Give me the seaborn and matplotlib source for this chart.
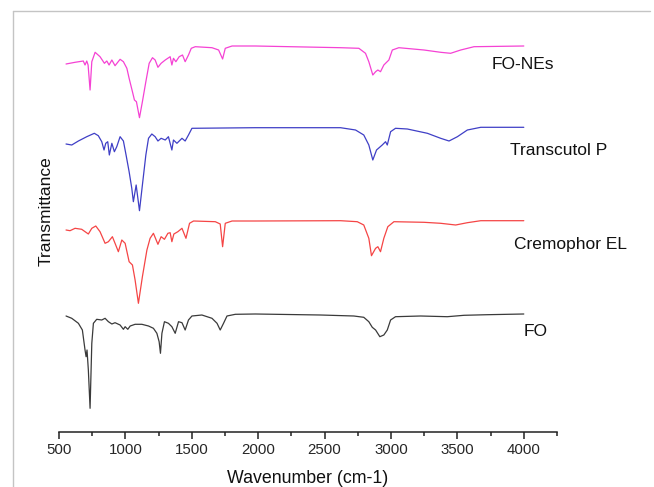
import pandas as pd
import matplotlib.pyplot as plt
import seaborn as sns
from matplotlib.lines import Line2D
from matplotlib.ticker import MultipleLocator

# FTIR spectra (wavenumber in cm-1, transmittance in a.u., traces stacked)
names = ["FO-NEs", "Transcutol P", "Cremophor EL", "FO"]

fo_nes_wn = [553, 621, 683, 696, 709, 719, 734, 747, 772, 809, 842, 860, 877, 898, 922, 960,
             985, 1011, 1028, 1053, 1068, 1083, 1106, 1128, 1154, 1179, 1204, 1224, 1245, 1269,
             1300, 1337, 1350, 1362, 1380, 1405, 1430, 1450, 1475, 1496, 1526, 1652, 1702, 1732,
             1752, 1803, 1978, 2620, 2758, 2808, 2833, 2863, 2884, 2901, 2921, 2946, 2984, 3010,
             3059, 3248, 3374, 3449, 3525, 3625, 4000]
fo_nes_t = [368, 369.7, 371, 367, 371, 367, 342, 370.3, 379.7, 375.3, 368.7, 371, 367, 372, 366.3,
            372.7, 370.3, 363.7, 353.7, 340.3, 332, 330.3, 314.3, 330.3, 350.3, 368.7, 374.3, 372,
            364.7, 368.7, 372, 375.3, 367, 373.7, 370.3, 375.3, 377, 370.3, 377, 383.7, 385.3,
            384.3, 382, 373, 383.7, 386, 386, 384.3, 383.7, 378.7, 370.3, 357, 360.3, 362, 360.3,
            367, 372, 382, 384.3, 382, 379.7, 378.7, 382, 385.3, 386]

transcutol_wn = [553, 596, 646, 709, 766, 796, 822, 839, 852, 867, 879, 898, 917, 935, 960, 985,
                 1005, 1028, 1048, 1060, 1081, 1106, 1128, 1154, 1174, 1199, 1224, 1245, 1269, 1300,
                 1324, 1350, 1362, 1388, 1426, 1450, 1475, 1501, 1978, 2620, 2733, 2795, 2833, 2863,
                 2891, 2934, 2959, 2972, 2997, 3034, 3123, 3274, 3374, 3437, 3500, 3575, 3676, 4000]
transcutol_t = [288, 287, 291, 295.3, 298.7, 296.3, 290.3, 282, 288.7, 290.3, 277, 288.7, 280.3,
                285.3, 295.3, 291, 277, 260.3, 243.7, 230.3, 247, 221.3, 247, 277, 293.7, 298,
                295.3, 291, 293.7, 292, 295.3, 282, 292, 288.7, 293.7, 291, 297, 303.7, 304.3,
                304.3, 302, 297, 287, 272, 282, 287, 290.3, 287, 300.3, 303.7, 303, 298.7, 293.7,
                291, 295.3, 302, 304.7, 304.7]

cremophor_wn = [553, 583, 621, 671, 721, 747, 777, 809, 847, 872, 902, 922, 947, 973, 998, 1028,
                1053, 1073, 1098, 1128, 1162, 1186, 1211, 1245, 1269, 1294, 1320, 1337, 1350, 1365,
                1395, 1426, 1456, 1483, 1513, 1677, 1714, 1732, 1752, 1803, 1978, 2620, 2746, 2795,
                2833, 2853, 2884, 2901, 2921, 2946, 2976, 3022, 3248, 3374, 3487, 3575, 3676, 4000]
cremophor_t = [202, 201.3, 203.7, 202.7, 198, 203.7, 206, 200.3, 188.7, 190.3, 195.3, 188.7, 180.3,
               192, 188.7, 170.3, 167, 152, 128.7, 155.3, 182, 193.7, 198.7, 187.7, 195.3, 192.7,
               198.7, 199.3, 190.3, 198, 200.3, 203.7, 193.7, 208.7, 211, 210.3, 208, 185.3, 208.7,
               211, 211, 211.3, 210.3, 207, 193.7, 176.3, 183.7, 185.3, 180.3, 193.7, 205.3, 210.3,
               209.7, 208.7, 207, 209.3, 211.3, 211.3]

fo_wn = [553, 596, 646, 676, 696, 704, 711, 721, 734, 747, 759, 784, 822, 847, 872, 898, 922, 960,
         985, 998, 1018, 1036, 1073, 1124, 1174, 1211, 1237, 1254, 1264, 1275, 1294, 1324, 1350,
         1375, 1400, 1426, 1450, 1475, 1501, 1576, 1652, 1690, 1714, 1739, 1765, 1828, 1978, 2469,
         2720, 2795, 2833, 2859, 2884, 2916, 2946, 2972, 2997, 3034, 3223, 3424, 3550, 3726, 4000]
fo_t = [116, 113.7, 108.7, 102, 82, 75.3, 82, 62, 23.7, 88.7, 108.7, 112.7, 112, 113.7, 110.3, 108,
        109.3, 107, 102.7, 105.3, 102.7, 106, 107.7, 107.7, 106, 103.7, 98.7, 90.3, 78.7, 98.7,
        110.3, 108.7, 105.3, 98.7, 110.3, 109.3, 102, 112, 116, 117, 113.7, 108.7, 102, 108.7, 116,
        117.7, 118, 117, 116, 114.7, 110.3, 104.7, 102, 95.3, 97, 102, 112, 115.3, 116, 115.3,
        116.7, 117.3, 118]

colors = ["#f542d4", "#3f3fc6", "#f54545", "#3a3a3a"]
label_x = [3759, 3894, 3925, 4000]
label_y = [368, 282, 188, 100]

frames = []
for name, wn, t in zip(names,
                       [fo_nes_wn, transcutol_wn, cremophor_wn, fo_wn],
                       [fo_nes_t, transcutol_t, cremophor_t, fo_t]):
    frames.append(pd.DataFrame({"wavenumber": wn, "transmittance": t, "sample": name}))
df = pd.concat(frames, ignore_index=True)

sns.set_theme(style="white")
plt.rcParams["font.family"] = ["Liberation Sans", "DejaVu Sans"]

fig = plt.figure(figsize=(6.54, 4.87), dpi=100)
ax = fig.add_axes([59 / 654, 55 / 487, 498 / 654, 412 / 487])

sns.lineplot(data=df, x="wavenumber", y="transmittance", hue="sample", palette=colors,
             estimator=None, sort=False, linewidth=0.9, legend=False, ax=ax)

for name, lx, ly in zip(names, label_x, label_y):
    ax.text(lx, ly, name, fontsize=12.5, ha="left", va="center", color="#111111")

ax.set_xlim(500, 4250)
ax.set_ylim(0, 412)
ax.xaxis.set_major_locator(MultipleLocator(500))
ax.xaxis.set_minor_locator(MultipleLocator(250))
ax.set_xticks(range(500, 4001, 500))
ax.set_yticks([])
ax.tick_params(axis="x", which="major", direction="out", length=5, width=1.1,
               labelsize=10.8, pad=3, color="#222222", bottom=True)
ax.tick_params(axis="x", which="minor", direction="out", length=2.8, width=1.1,
               color="#222222", bottom=True)
for side in ["top", "right", "left"]:
    ax.spines[side].set_visible(False)
ax.spines["bottom"].set_linewidth(1.1)
ax.spines["bottom"].set_color("#222222")

ax.set_xlabel("Wavenumber (cm-1)", fontsize=12.8, labelpad=9, color="#111111")
ax.set_ylabel("Transmittance", fontsize=12.5, labelpad=0, color="#111111")
ax.yaxis.set_label_coords(-5 / 498, 0.536)

# grey border of the original screenshot
fig.add_artist(Line2D([13 / 654, 650 / 654], [1 - 11 / 487, 1 - 11 / 487],
                      color="#c4c4c4", linewidth=1.0))
fig.add_artist(Line2D([13 / 654, 13 / 654], [0, 1 - 11 / 487],
                      color="#c4c4c4", linewidth=1.0))

fig.savefig("out.png", dpi=100)
